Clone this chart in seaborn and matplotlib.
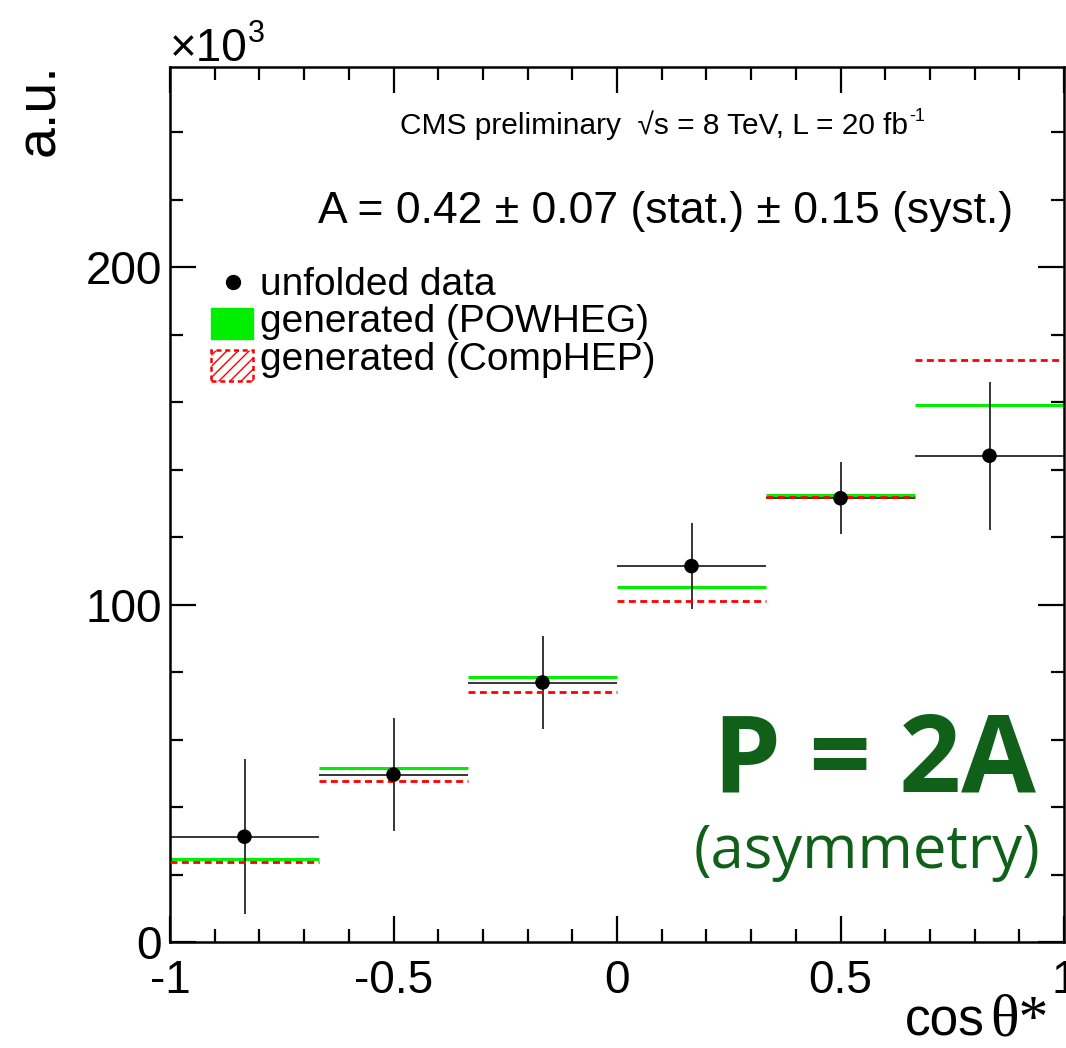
import numpy as np
import pandas as pd
import matplotlib
matplotlib.use("Agg")
import matplotlib.pyplot as plt
import seaborn as sns
from matplotlib.patches import Rectangle
from matplotlib.lines import Line2D
from matplotlib.ticker import MultipleLocator

# ---------------- data (values in units of 10^3) ----------------
bin_edges = [-1.0, -2/3, -1/3, 0.0, 1/3, 2/3, 1.0]
data_vals = [31.2, 49.6, 76.9, 111.4, 131.5, 144.1]
data_errs = [23.0, 16.7, 13.7, 12.7, 10.7, 22.0]
powheg_vals = [24.7, 51.7, 78.6, 105.1, 132.6, 159.2]
comphep_vals = [23.7, 47.8, 74.0, 101.2, 131.8, 172.6]
legend_labels = ["unfolded data", "generated (POWHEG)", "generated (CompHEP)"]
x_ticks = [-1, -0.5, 0, 0.5, 1]
x_tick_labels = ["-1", "-0.5", "0", "0.5", "1"]
y_ticks = [0, 100, 200]

sns.set_theme(style="ticks")
plt.rcParams["font.family"] = ["Liberation Sans", "DejaVu Sans"]
plt.rcParams["axes.unicode_minus"] = False
plt.rcParams["text.color"] = "black"
plt.rcParams["xtick.color"] = "black"
plt.rcParams["ytick.color"] = "black"

W, H = 1066, 1048
fig = plt.figure(figsize=(W / 100, H / 100), dpi=100)
fig.patch.set_facecolor("white")
ax = fig.add_axes([170 / W, 1 - 942 / H, (1064 - 170) / W, (942 - 67) / H])
ax.set_facecolor("white")

edges = np.array(bin_edges)
lo, hi = edges[:-1], edges[1:]
centers = (lo + hi) / 2
df = pd.DataFrame({"x": centers, "y": data_vals, "err": data_errs})

# generated histograms (horizontal segments)
ax.hlines(powheg_vals, lo, hi, colors="#00ee00", linewidth=2.2, zorder=2)
# data error bars
ax.hlines(df["y"], lo, hi, colors="black", linewidth=1.1, zorder=3)
ax.vlines(df["x"], df["y"] - df["err"], df["y"] + df["err"], colors="black", linewidth=1.1, zorder=3)
ax.hlines(comphep_vals, lo, hi, colors="#ff0000", linewidth=2.0, linestyles=(0, (2.5, 1.6)), zorder=4)
sns.scatterplot(data=df, x="x", y="y", color="black", s=110, edgecolor="none", ax=ax, zorder=5, legend=False)

ax.set_xlim(-1, 1)
ax.set_ylim(0, 259.3)
ax.set_xlabel("")
ax.set_ylabel("")
ax.set_xticks(x_ticks)
ax.set_xticklabels(x_tick_labels)
ax.set_yticks(y_ticks)
ax.xaxis.set_minor_locator(MultipleLocator(0.1))
ax.yaxis.set_minor_locator(MultipleLocator(20))
ax.tick_params(axis="both", which="both", direction="in", top=True, right=True,
               colors="black", labelcolor="black", width=1.6)
ax.tick_params(axis="both", which="major", length=19, labelsize=33)
ax.tick_params(axis="both", which="minor", length=9.5)
ax.tick_params(axis="x", which="major", pad=12)
ax.tick_params(axis="y", which="major", pad=6)
for s in ax.spines.values():
    s.set_linewidth(1.8)
    s.set_color("black")

def fx(px):
    return px / W

def fy(py):
    return 1 - py / H

# axis titles
fig.text(fx(66), fy(63), "a.u.", rotation=90, ha="right", va="top", fontsize=40)
fig.text(fx(985), fy(1036), "cos", ha="right", va="baseline", fontsize=37)
fig.text(fx(990), fy(1036), "θ*", ha="left", va="baseline", fontsize=43,
         family=["Liberation Serif", "DejaVu Serif"])
fig.text(fx(170), fy(61), "×10", ha="left", va="baseline", fontsize=33)
fig.text(fx(248), fy(42), "3", ha="left", va="baseline", fontsize=22)

# annotation texts
fig.text(fx(400), fy(134), "CMS preliminary  √s = 8 TeV, L = 20 fb", ha="left", va="baseline",
         fontsize=21.5)
fig.text(fx(909), fy(121), "-1", ha="left", va="baseline", fontsize=13)
fig.text(fx(318), fy(223), "A = 0.42 ± 0.07 (stat.) ± 0.15 (syst.)", ha="left", va="baseline",
         fontsize=32)

green_dark = "#10601a"
fig.text(fx(1036), fy(792), "P = 2A", ha="right", va="baseline", fontsize=78,
         fontweight="bold", color=green_dark, family=["Open Sans", "DejaVu Sans"])
fig.text(fx(1040), fy(868), "(asymmetry)", ha="right", va="baseline", fontsize=43,
         color=green_dark, family=["Open Sans", "DejaVu Sans"])

# legend (manual)
fig.add_artist(Line2D([fx(233)], [fy(282)], marker="o", color="black", markersize=10,
                      linestyle="none", transform=fig.transFigure))
fig.add_artist(Rectangle((fx(211), fy(339)), fx(253) - fx(211), fy(308) - fy(339),
                         facecolor="#00ee00", edgecolor="#00ee00", transform=fig.transFigure))
fig.add_artist(Rectangle((fx(211), fy(381)), fx(253) - fx(211), fy(350) - fy(381),
                         facecolor="white", edgecolor="#ff0000", hatch="///", linewidth=1.8,
                         linestyle=(0, (2, 1.5)), transform=fig.transFigure))
for lab, by in zip(legend_labels, [295, 332, 370]):
    fig.text(fx(260), fy(by), lab, ha="left", va="baseline", fontsize=28)

fig.savefig("out.png", dpi=100, facecolor="white")
